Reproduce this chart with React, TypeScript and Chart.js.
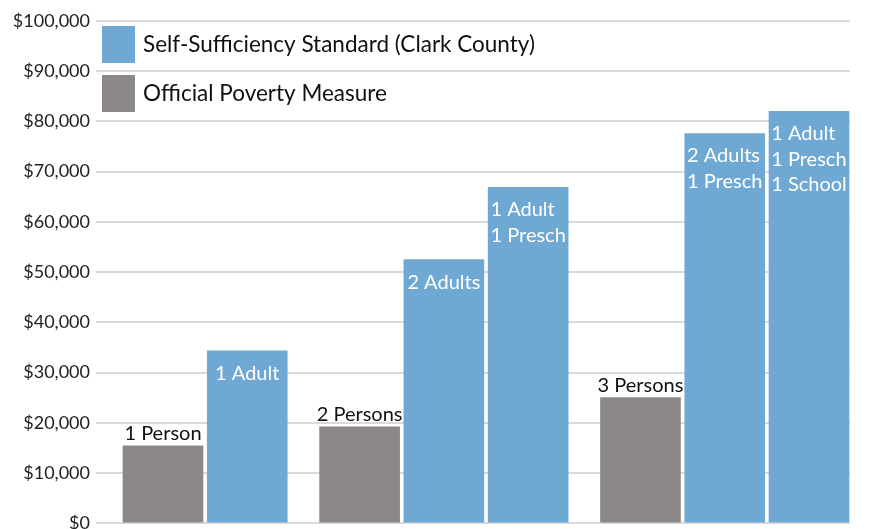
import React, { useEffect, useRef } from "react";
import { Chart, registerables } from "chart.js";

Chart.register(...registerables);

// ---- data ----
const groupLabels = ["1 Person", "2 Persons", "3 Persons"];
const povertyValues = [15400, 19200, 25000];
const sssLabels = ["1 Adult", "2 Adults", "1 Adult\n1 Presch", "2 Adults\n1 Presch", "1 Adult\n1 Presch\n1 School"];
const sssValues = [34300, 52500, 66900, 77600, 82000];
const sssGroup = [0, 1, 1, 2, 2];
const seriesNames = ["Self-Sufficiency Standard (Clark County)", "Official Poverty Measure"];
const yMin = 0;
const yMax = 100000;
const yStep = 10000;

// ---- style ----
const BLUE = "#6fa9d3";
const GREY = "#8c8888";
const FONT = "Lato";
const TICK_FONT_SIZE = 18;
const LEGEND_FONT_SIZE = 22.5;
const LABEL_FONT_SIZE = 20;

type Pt = { x: number; y: number; label: string };

function buildPoints() {
  const poverty: Pt[] = [];
  const sss: Pt[] = [];
  let i = 0;
  groupLabels.forEach((g, gi) => {
    poverty.push({ x: i + gi / 3, y: povertyValues[gi], label: g });
    i++;
    sssValues.forEach((v, k) => {
      if (sssGroup[k] === gi) {
        sss.push({ x: i + gi / 3, y: v, label: sssLabels[k] });
        i++;
      }
    });
  });
  return { poverty, sss };
}

const legendPlugin = {
  id: "insideLegend",
  afterDraw(chart: any) {
    const { ctx, chartArea } = chart;
    ctx.save();
    ctx.font = `${LEGEND_FONT_SIZE}px ${FONT}`;
    ctx.textBaseline = "middle";
    ctx.textAlign = "left";
    chart.data.datasets.forEach((ds: any, k: number) => {
      const bx = chartArea.left + 6;
      const by = chartArea.top + 5 + k * 49;
      ctx.fillStyle = ds.backgroundColor;
      ctx.fillRect(bx, by, 33, 37);
      ctx.fillStyle = "#111";
      ctx.fillText(ds.label, bx + 33 + 8, by + 19);
    });
    ctx.restore();
  },
};

const labelPlugin = {
  id: "barLabels",
  afterDatasetsDraw(chart: any) {
    const { ctx } = chart;
    ctx.save();
    ctx.font = `${LABEL_FONT_SIZE}px ${FONT}`;
    chart.data.datasets.forEach((ds: any, di: number) => {
      const meta = chart.getDatasetMeta(di);
      meta.data.forEach((bar: any, idx: number) => {
        const text: string = ds.data[idx].label;
        if (ds.inside) {
          const lines = text.split("\n");
          const w = Math.max(...lines.map((l) => ctx.measureText(l).width));
          ctx.fillStyle = "#ffffff";
          ctx.textAlign = "left";
          ctx.textBaseline = "alphabetic";
          lines.forEach((l, li) => {
            ctx.fillText(l, bar.x - w / 2, bar.y + 29 + li * 25.5);
          });
        } else {
          ctx.fillStyle = "#111";
          ctx.textAlign = "center";
          ctx.textBaseline = "alphabetic";
          ctx.fillText(text, bar.x, bar.y - 6);
        }
      });
    });
    ctx.restore();
  },
};

export default function App() {
  const ref = useRef<HTMLCanvasElement | null>(null);
  useEffect(() => {
    if (!ref.current) return;
    const { poverty, sss } = buildPoints();
    const chart = new Chart(ref.current, {
      type: "bar",
      data: {
        datasets: [
          { label: seriesNames[0], data: sss as any, backgroundColor: BLUE, barThickness: 80, grouped: false, inside: true } as any,
          { label: seriesNames[1], data: poverty as any, backgroundColor: GREY, barThickness: 80, grouped: false, inside: false } as any,
        ],
      },
      options: {
        responsive: false,
        animation: false,
        layout: { padding: { left: 0, right: 24, top: 21, bottom: 14 } },
        plugins: { legend: { display: false }, tooltip: { enabled: false } },
        scales: {
          x: { type: "linear", min: -0.795, max: 8.153, offset: false, display: false },
          y: {
            min: yMin,
            max: yMax,
            ticks: {
              stepSize: yStep,
              padding: 6,
              color: "#222",
              font: { family: FONT, size: TICK_FONT_SIZE },
              callback: (v: any) => "$" + Number(v).toLocaleString("en-US"),
            },
            grid: { color: "#dadada", lineWidth: 2, drawTicks: false },
            border: { display: false },
            afterFit: (s: any) => {
              s.width = 96;
            },
          },
        },
      },
      plugins: [legendPlugin, labelPlugin],
    });
    return () => chart.destroy();
  }, []);
  return (
    <div style={{ position: "fixed", left: 0, top: 0, width: 874, height: 529, overflow: "hidden", background: "#fff" }}>
      <canvas ref={ref} width={874} height={540} style={{ display: "block" }} />
    </div>
  );
}
